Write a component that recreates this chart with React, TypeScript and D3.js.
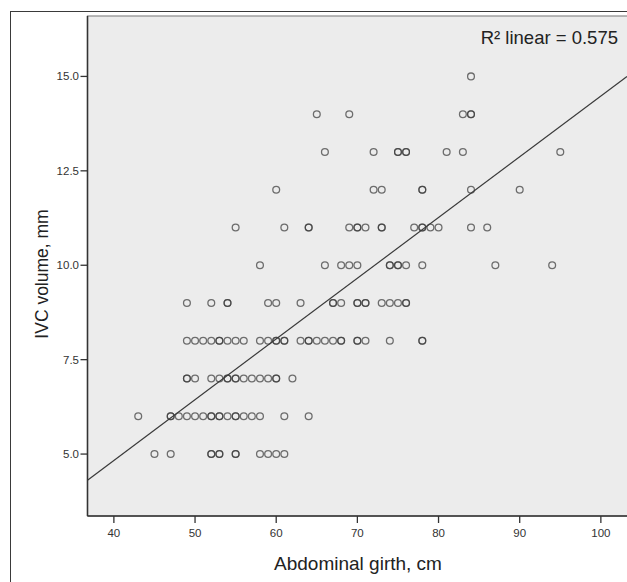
import React from "react";
import * as d3 from "d3";

// IVC volume levels (rows) and the abdominal girth values at each level
const ivcLevels = [5, 6, 7, 8, 9, 10, 11, 12, 13, 14, 15];
const girthAt5 = [45, 47, 52, 52, 53, 53, 55, 55, 58, 59, 60, 61];
const girthAt6 = [43, 47, 47, 48, 49, 50, 51, 52, 52, 53, 53, 54, 55, 55, 56, 57, 58, 61, 64];
const girthAt7 = [49, 49, 50, 52, 53, 54, 54, 55, 55, 56, 57, 58, 59, 60, 60, 62];
const girthAt8 = [49, 50, 51, 52, 53, 53, 54, 55, 56, 58, 59, 60, 60, 61, 61, 63, 64, 64, 65, 66, 67, 68, 68, 70, 70, 71, 74, 78, 78];
const girthAt9 = [49, 52, 54, 54, 59, 60, 63, 67, 67, 68, 70, 70, 71, 71, 73, 74, 75, 76, 76];
const girthAt10 = [58, 66, 68, 69, 70, 74, 74, 75, 75, 76, 78, 87, 94];
const girthAt11 = [55, 61, 64, 64, 69, 70, 70, 71, 73, 73, 77, 78, 78, 79, 80, 84, 86];
const girthAt12 = [60, 72, 73, 78, 78, 84, 90];
const girthAt13 = [66, 72, 75, 75, 76, 76, 81, 83, 95];
const girthAt14 = [65, 69, 83, 84, 84];
const girthAt15 = [84];
const girthRows = [girthAt5, girthAt6, girthAt7, girthAt8, girthAt9, girthAt10, girthAt11, girthAt12, girthAt13, girthAt14, girthAt15];

// linear fit
const fitIntercept = -1.6;
const fitSlope = 0.1608;
const rSquaredLabel = "R\u00B2 linear = 0.575";

const xTicks = [40, 50, 60, 70, 80, 90, 100];
const yTicks = [5, 7.5, 10, 12.5, 15];
const xDomain = [36.75, 103.22];
const yDomain = [3.36, 16.6];
const xTitle = "Abdominal girth, cm";
const yTitle = "IVC volume, mm";

const W = 627;
const H = 582;
const plot = { left: 87.5, top: 16, right: 627, bottom: 516 };
const FONT = "'Liberation Sans', Arial, Helvetica, sans-serif";

export default function App() {
  const x = d3.scaleLinear().domain(xDomain).range([plot.left, plot.right]);
  const y = d3.scaleLinear().domain(yDomain).range([plot.bottom, plot.top]);

  const points: { g: number; v: number }[] = [];
  girthRows.forEach((row, i) => row.forEach((g) => points.push({ g, v: ivcLevels[i] })));

  const fit = (g: number) => fitIntercept + fitSlope * g;
  const lineGen = d3
    .line<number>()
    .x((g) => x(g))
    .y((g) => y(fit(g)));
  const fitPath = lineGen([xDomain[0], xDomain[1]]) || "";

  return (
    <svg
      width={W}
      height={H}
      viewBox={`0 0 ${W} ${H}`}
      style={{ position: "absolute", left: 0, top: 0, background: "#fff" }}
    >
      <defs>
        <clipPath id="plotClip">
          <rect x={plot.left} y={plot.top} width={660 - plot.left} height={plot.bottom - plot.top} />
        </clipPath>
      </defs>
      {/* outer frame */}
      <rect x={10.5} y={11.5} width={700} height={700} fill="none" stroke="#3a3a3a" strokeWidth={1} />
      {/* plot background */}
      <rect
        x={plot.left}
        y={plot.top}
        width={660 - plot.left}
        height={plot.bottom - plot.top}
        fill="#ececec"
        stroke="#8a8a8a"
        strokeWidth={1.2}
      />
      {/* points */}
      <g clipPath="url(#plotClip)">
        {points.map((p, i) => (
          <circle
            key={i}
            cx={x(p.g)}
            cy={y(p.v)}
            r={3.4}
            fill="none"
            stroke="#3c3c3c"
            strokeOpacity={0.72}
            strokeWidth={1.3}
          />
        ))}
        <path d={fitPath} fill="none" stroke="#3a3a3a" strokeWidth={1.2} />
      </g>
      {/* axes */}
      <line x1={plot.left} x2={plot.left} y1={plot.top} y2={plot.bottom} stroke="#333" strokeWidth={1.5} />
      <line x1={plot.left} x2={660} y1={plot.bottom} y2={plot.bottom} stroke="#333" strokeWidth={1.5} />
      {yTicks.map((t) => (
        <g key={t}>
          <line x1={plot.left - 7} x2={plot.left} y1={y(t)} y2={y(t)} stroke="#333" strokeWidth={1.3} />
          <text
            x={plot.left - 8.5}
            y={y(t)}
            textAnchor="end"
            dominantBaseline="central"
            fontFamily={FONT}
            fontSize={11.5}
            fill="#333"
          >
            {t.toFixed(1)}
          </text>
        </g>
      ))}
      {xTicks.map((t) => (
        <g key={t}>
          <line x1={x(t)} x2={x(t)} y1={plot.bottom} y2={plot.bottom + 7} stroke="#333" strokeWidth={1.3} />
          <text
            x={x(t)}
            y={plot.bottom + 20.5}
            textAnchor="middle"
            fontFamily={FONT}
            fontSize={11.5}
            fill="#333"
          >
            {t}
          </text>
        </g>
      ))}
      <text x={358} y={570} textAnchor="middle" fontFamily={FONT} fontSize={19} fill="#222">
        {xTitle}
      </text>
      <text
        transform={`translate(42, 274) rotate(-90)`}
        textAnchor="middle"
        dominantBaseline="central"
        fontFamily={FONT}
        fontSize={17.5}
        fill="#222"
      >
        {yTitle}
      </text>
      <text x={618} y={44} textAnchor="end" fontFamily={FONT} fontSize={18.5} fill="#222">
        {rSquaredLabel}
      </text>
    </svg>
  );
}
